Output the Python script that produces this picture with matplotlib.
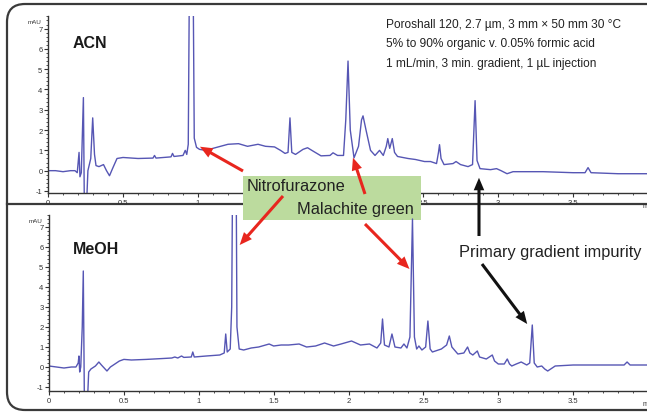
import numpy as np
import matplotlib
matplotlib.use("Agg")
import matplotlib.pyplot as plt
from matplotlib.patches import FancyBboxPatch, Rectangle
from matplotlib.lines import Line2D

# Chromatogram traces (time in min, absorbance in mAU)
acn_t = [0.00, 0.05, 0.10, 0.15, 0.18, 0.195, 0.207, 0.213, 0.222, 0.236,
         0.242, 0.258, 0.266, 0.285, 0.298, 0.31, 0.32, 0.34, 0.37, 0.39,
         0.41, 0.43, 0.46, 0.50, 0.60, 0.70, 0.71, 0.72, 0.82, 0.83,
         0.84, 0.90, 0.915, 0.925, 0.935, 0.945, 0.965, 0.975, 0.99, 1.01,
         1.05, 1.10, 1.15, 1.20, 1.27, 1.33, 1.40, 1.45, 1.51, 1.55,
         1.58, 1.60, 1.613, 1.625, 1.65, 1.70, 1.73, 1.77, 1.82, 1.88,
         1.90, 1.93, 1.97, 1.985, 2.00, 2.015, 2.04, 2.07, 2.09, 2.10,
         2.12, 2.15, 2.18, 2.21, 2.235, 2.255, 2.265, 2.278, 2.295, 2.31,
         2.33, 2.40, 2.45, 2.51, 2.55, 2.59, 2.603, 2.61, 2.62, 2.64,
         2.70, 2.72, 2.75, 2.80, 2.83, 2.847, 2.86, 2.88, 2.95, 2.99,
         3.02, 3.06, 3.10, 3.30, 3.50, 3.58, 3.60, 3.62, 3.80, 4.00]
acn_y = [0.00, 0.00, -0.05, 0.00, 0.00, -0.1, 0.9, -0.3, -0.1, 3.6,
         -1.5, -1.5, 0.0, 0.6, 2.6, 0.8, 0.25, 0.2, 0.3, 0.0,
         -0.25, 0.1, 0.6, 0.65, 0.6, 0.62, 0.75, 0.62, 0.68, 0.85,
         0.7, 0.75, 1.0, 0.8, 1.3, 12.0, 12.0, 1.6, 1.15, 1.05,
         1.0, 1.1, 1.2, 1.3, 1.33, 1.2, 1.3, 1.2, 1.17, 1.0,
         0.85, 0.9, 2.6, 0.9, 0.8, 1.05, 1.13, 0.95, 0.73, 0.75,
         0.88, 0.75, 0.75, 2.5, 5.4, 2.0, 0.63, 1.2, 2.5, 2.7,
         2.0, 1.0, 0.75, 1.0, 0.75, 1.2, 1.58, 1.1, 1.58, 0.9,
         0.7, 0.6, 0.55, 0.45, 0.45, 0.35, 0.9, 1.28, 0.6, 0.3,
         0.35, 0.45, 0.3, 0.2, 0.3, 3.45, 0.5, 0.1, 0.05, 0.1,
         0.0, -0.15, -0.05, -0.05, -0.1, -0.1, 0.15, -0.1, -0.15, -0.15]

meoh_t = [0.00, 0.05, 0.10, 0.15, 0.18, 0.195, 0.200, 0.205, 0.212, 0.222,
          0.229, 0.236, 0.258, 0.265, 0.28, 0.31, 0.333, 0.35, 0.387, 0.41,
          0.44, 0.47, 0.50, 0.55, 0.65, 0.75, 0.82, 0.84, 0.86, 0.885,
          0.90, 0.95, 0.96, 0.97, 1.05, 1.14, 1.17, 1.18, 1.19, 1.21,
          1.22, 1.228, 1.248, 1.255, 1.27, 1.30, 1.35, 1.40, 1.47, 1.50,
          1.55, 1.60, 1.67, 1.72, 1.78, 1.84, 1.90, 1.95, 2.02, 2.08,
          2.14, 2.19, 2.215, 2.227, 2.24, 2.27, 2.29, 2.31, 2.35, 2.37,
          2.39, 2.41, 2.427, 2.44, 2.455, 2.47, 2.49, 2.515, 2.53, 2.545,
          2.56, 2.62, 2.655, 2.673, 2.69, 2.73, 2.77, 2.795, 2.81, 2.83,
          2.86, 2.875, 2.92, 2.96, 2.975, 3.00, 3.04, 3.06, 3.075, 3.09,
          3.12, 3.153, 3.19, 3.21, 3.227, 3.24, 3.26, 3.29, 3.31, 3.33,
          3.38, 3.50, 3.70, 3.84, 3.86, 3.88, 4.00]
meoh_y = [0.05, 0.0, -0.05, 0.0, 0.0, 0.2, 0.55, -0.25, 0.0, 2.0,
          4.8, -1.5, -1.5, -0.25, -0.1, 0.05, 0.25, 0.1, -0.2, 0.0,
          0.15, 0.3, 0.38, 0.35, 0.38, 0.42, 0.45, 0.5, 0.45, 0.55,
          0.48, 0.5, 0.75, 0.5, 0.55, 0.6, 0.7, 1.65, 0.75, 0.9,
          3.0, 12.0, 12.0, 2.0, 0.9, 0.85, 0.95, 1.0, 1.15, 1.05,
          1.1, 1.1, 1.15, 1.0, 1.05, 1.2, 1.05, 1.15, 1.3, 1.1,
          1.15, 0.95, 1.2, 2.4, 1.1, 1.0, 1.65, 1.0, 0.95, 1.15,
          0.95, 1.5, 7.4, 1.5, 0.9, 1.05, 0.85, 1.0, 2.3, 0.9,
          0.75, 0.9, 1.1, 1.55, 1.0, 0.65, 0.7, 1.0, 0.7, 0.6,
          0.8, 0.5, 0.4, 0.6, 0.3, 0.15, 0.15, 0.4, 0.15, 0.05,
          0.15, 0.25, 0.1, 0.2, 2.1, 0.2, 0.0, 0.05, -0.1, -0.2,
          0.05, 0.1, 0.1, 0.1, 0.25, 0.1, 0.1]

xtick_vals = [0, 0.5, 1, 1.5, 2, 2.5, 3, 3.5]
xtick_labels = ["0", "0.5", "1", "1.5", "2", "2.5", "3", "3.5"]
ytick_vals = [-1, 0, 1, 2, 3, 4, 5, 6, 7]

conditions = ["Poroshall 120, 2.7 \u00b5m, 3 mm \u00d7 50 mm 30 \u00b0C",
              "5% to 90% organic v. 0.05% formic acid",
              "1 mL/min, 3 min. gradient, 1 \u00b5L injection"]

W, H = 647, 414
trace_col = "#5656b4"
red = "#e8261e"
dark = "#3a3a3a"
sans = ["Liberation Sans", "DejaVu Sans"]

fig = plt.figure(figsize=(W / 100, H / 100), dpi=100)

def fx(x):
    return x / W

def fy(y):
    return 1 - y / H

def setup(ax, ylim):
    ax.set_facecolor("none")
    ax.set_xlim(0, 3.993)
    ax.set_ylim(*ylim)
    for s in ["top", "right"]:
        ax.spines[s].set_visible(False)
    for s in ["left", "bottom"]:
        ax.spines[s].set_color("#333333")
        ax.spines[s].set_linewidth(1.0)
    ax.set_xticks(xtick_vals)
    ax.set_xticklabels(xtick_labels, family=sans)
    ax.set_xticks(np.arange(0, 4.0, 0.1), minor=True)
    ax.set_yticks(ytick_vals)
    ax.set_yticklabels([str(v) for v in ytick_vals], family=sans)
    ax.set_yticks(np.arange(-1, 7.61, 0.2), minor=True)
    ax.tick_params(which="major", length=3, width=0.8, labelsize=5.5,
                   colors="#333333", pad=1)
    ax.tick_params(which="minor", length=1.5, width=0.6, colors="#333333")
    ax.annotate("mAU", xy=(0, 0.97), xycoords="axes fraction",
                xytext=(-5, 0), textcoords="offset points", fontsize=4.5,
                family=sans, ha="right", va="center", color="#333333")
    ax.text(3.96, -0.05, "min", transform=ax.get_xaxis_transform(),
            fontsize=5, family=sans, ha="left", va="top", color="#333333")

# top panel: ACN
ax1 = fig.add_axes([fx(48), fy(194), fx(W - 48), 176.6 / H])
setup(ax1, (-1.1, 7.6))
ax1.plot(acn_t, acn_y, color=trace_col, lw=1.0)
# the 1.5 and 2 labels sit under the green label box in the original
for lab in ax1.get_xticklabels()[3:5]:
    lab.set_visible(False)

# bottom panel: MeOH
ax2 = fig.add_axes([fx(49), fy(392), fx(W - 49), 176 / H])
setup(ax2, (-1.2, 7.6))
ax2.plot(meoh_t, meoh_y, color=trace_col, lw=1.0)

# frame and divider
frame = FancyBboxPatch((0.07, 0.03), 7.0, 4.06, transform=fig.dpi_scale_trans,
                       boxstyle="round,pad=0,rounding_size=0.18",
                       fc="none", ec=dark, lw=1.6, zorder=-1)
fig.patches.append(frame)
fig.lines.append(Line2D([0.07, 6.5], [2.09, 2.09], transform=fig.dpi_scale_trans,
                        color=dark, lw=1.6, zorder=-1))

# green label box (inside top axes so the arrows can sit above it)
ax1.add_patch(Rectangle((243, H - 221), 178, 44, transform=None,
                        fc="#bcdb9e", ec="none", zorder=3, clip_on=False))

fig.text(fx(73), fy(44), "ACN", fontsize=11.5, fontweight="bold",
         family=sans, va="center", color="#1a1a1a")
fig.text(fx(73), fy(250), "MeOH", fontsize=11.5, fontweight="bold",
         family=sans, va="center", color="#1a1a1a")
for i, line in enumerate(conditions):
    fig.text(fx(386), fy(25 + 19.5 * i), line, fontsize=8.6, family=sans,
             va="center", color="#222222")
fig.text(fx(247), fy(187), "Nitrofurazone", fontsize=11.8, family=sans,
         va="center", color="#222222", zorder=5)
fig.text(fx(297), fy(210), "Malachite green", fontsize=11.8, family=sans,
         va="center", color="#222222", zorder=5)
fig.text(fx(459), fy(252), "Primary gradient impurity", fontsize=11.8,
         family=sans, va="center", color="#222222", zorder=5)

def arrow(ax, xy, tail, col):
    ax.annotate("", xy=xy, xycoords="data",
                xytext=(tail[0], H - tail[1]), textcoords="figure pixels",
                arrowprops=dict(arrowstyle="simple,head_length=0.45,head_width=0.38,tail_width=0.11",
                                mutation_scale=20, fc=col, ec="none",
                                shrinkA=0, shrinkB=0),
                annotation_clip=False, zorder=4)

arrow(ax1, (1.013, 1.18), (243, 172), red)
arrow(ax1, (2.033, 0.64), (365, 195), red)
arrow(ax1, (2.873, -0.35), (479, 237), "#111111")
arrow(ax2, (1.273, 6.1), (283, 197), red)
arrow(ax2, (2.407, 4.9), (365, 225), red)
arrow(ax2, (3.193, 2.15), (482, 265), "#111111")

fig.savefig("out.png", dpi=100, facecolor="white")
